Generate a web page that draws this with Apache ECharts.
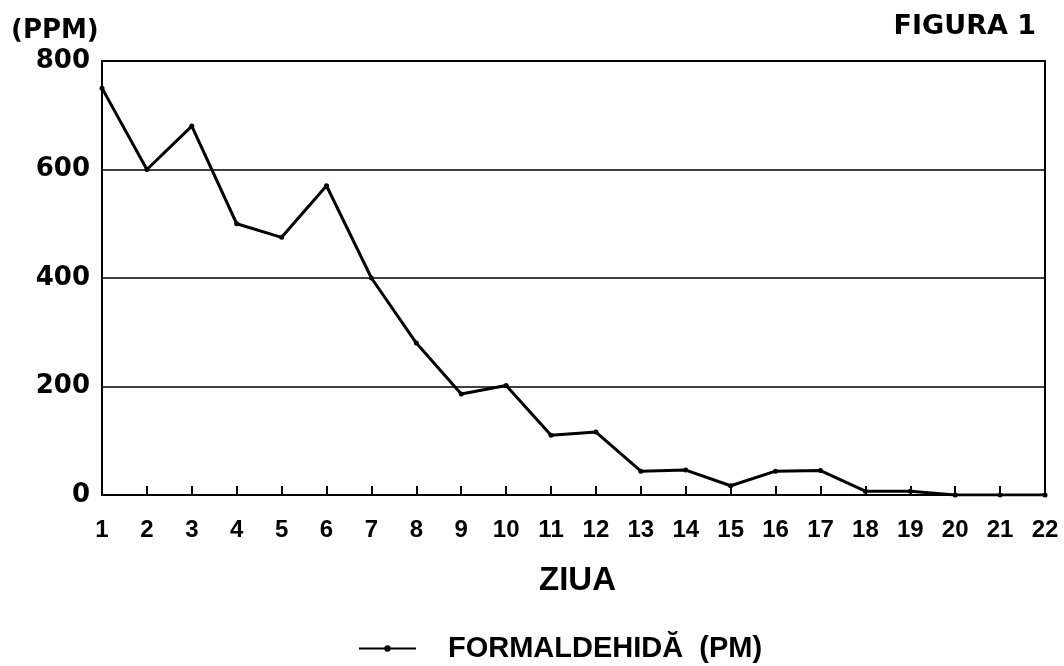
<!DOCTYPE html>
<html>
<head>
<meta charset="utf-8">
<script src="https://cdn.jsdelivr.net/npm/echarts@6/dist/echarts.min.js"></script>
<style>
  html, body { margin: 0; padding: 0; background: #fff; }
  #chart { width: 1064px; height: 666px; }
</style>
</head>
<body>
<div id="chart"></div>
<script>
// zilele si concentratiile
const days = [1, 2, 3, 4, 5, 6, 7, 8, 9, 10, 11, 12, 13, 14, 15, 16, 17, 18, 19, 20, 21, 22];
const formaldehyde = [750, 600, 680, 500, 475, 570, 400, 280, 186, 202, 110, 116, 44, 46, 17, 44, 45, 7, 7, 0, 0, 0];
const yTicks = [0, 200, 400, 600, 800];

const wide = 'DejaVu Sans, Verdana, sans-serif';
const narrow = 'Liberation Sans, Arial, sans-serif';
const chart = echarts.init(document.getElementById('chart'));

const options = {
  backgroundColor: '#fff',
  animation: false,
  title: [
    { text: '(PPM)', left: 11, top: 18, padding: 0, textStyle: { fontFamily: wide, fontSize: 26, fontWeight: 'bold', color: '#000' } },
    { text: 'FIGURA 1', right: 28, top: 13, padding: 0, textStyle: { fontFamily: wide, fontSize: 27, fontWeight: 'bold', color: '#000' } },
    { text: 'ZIUA', left: 539, top: 564, padding: 0, textStyle: { fontFamily: narrow, fontSize: 33, fontWeight: 'bold', color: '#000' } }
  ],
  legend: {
    left: 353,
    top: 629,
    itemWidth: 57,
    itemHeight: 8,
    textStyle: { fontFamily: narrow, fontSize: 29, fontWeight: 'bold', color: '#000', padding: [0, 0, 0, 27] },
    data: ['FORMALDEHIDĂ  (PM)']
  },
  grid: {
    left: 102,
    right: 19,
    top: 61,
    bottom: 171,
    show: true,
    borderColor: '#000',
    borderWidth: 2
  },
  xAxis: {
    type: 'value',
    min: 1,
    max: 22,
    interval: 1,
    axisLine: { lineStyle: { color: '#000', width: 2 } },
    axisTick: { inside: true, length: 9, lineStyle: { color: '#000', width: 2 } },
    axisLabel: { fontFamily: narrow, fontSize: 24, fontWeight: 'bold', color: '#000', margin: 23 },
    splitLine: { show: false }
  },
  yAxis: {
    type: 'value',
    min: 0,
    max: 800,
    interval: 200,
    axisLine: { show: true, lineStyle: { color: '#000', width: 2 } },
    axisTick: { show: false },
    axisLabel: {
      fontFamily: wide, fontSize: 26, fontWeight: 'bold', color: '#000', margin: 12,
      formatter: v => yTicks.includes(v) ? String(v) : ''
    },
    splitLine: { show: true, lineStyle: { color: '#000', width: 1.5 } }
  },
  series: [
    {
      name: 'FORMALDEHIDĂ  (PM)',
      type: 'line',
      data: days.map((d, i) => [d, formaldehyde[i]]),
      symbol: 'circle',
      symbolSize: 5,
      itemStyle: { color: '#000' },
      lineStyle: { color: '#000', width: 3 }
    }
  ]
};

chart.setOption(options);
</script>
</body>
</html>
